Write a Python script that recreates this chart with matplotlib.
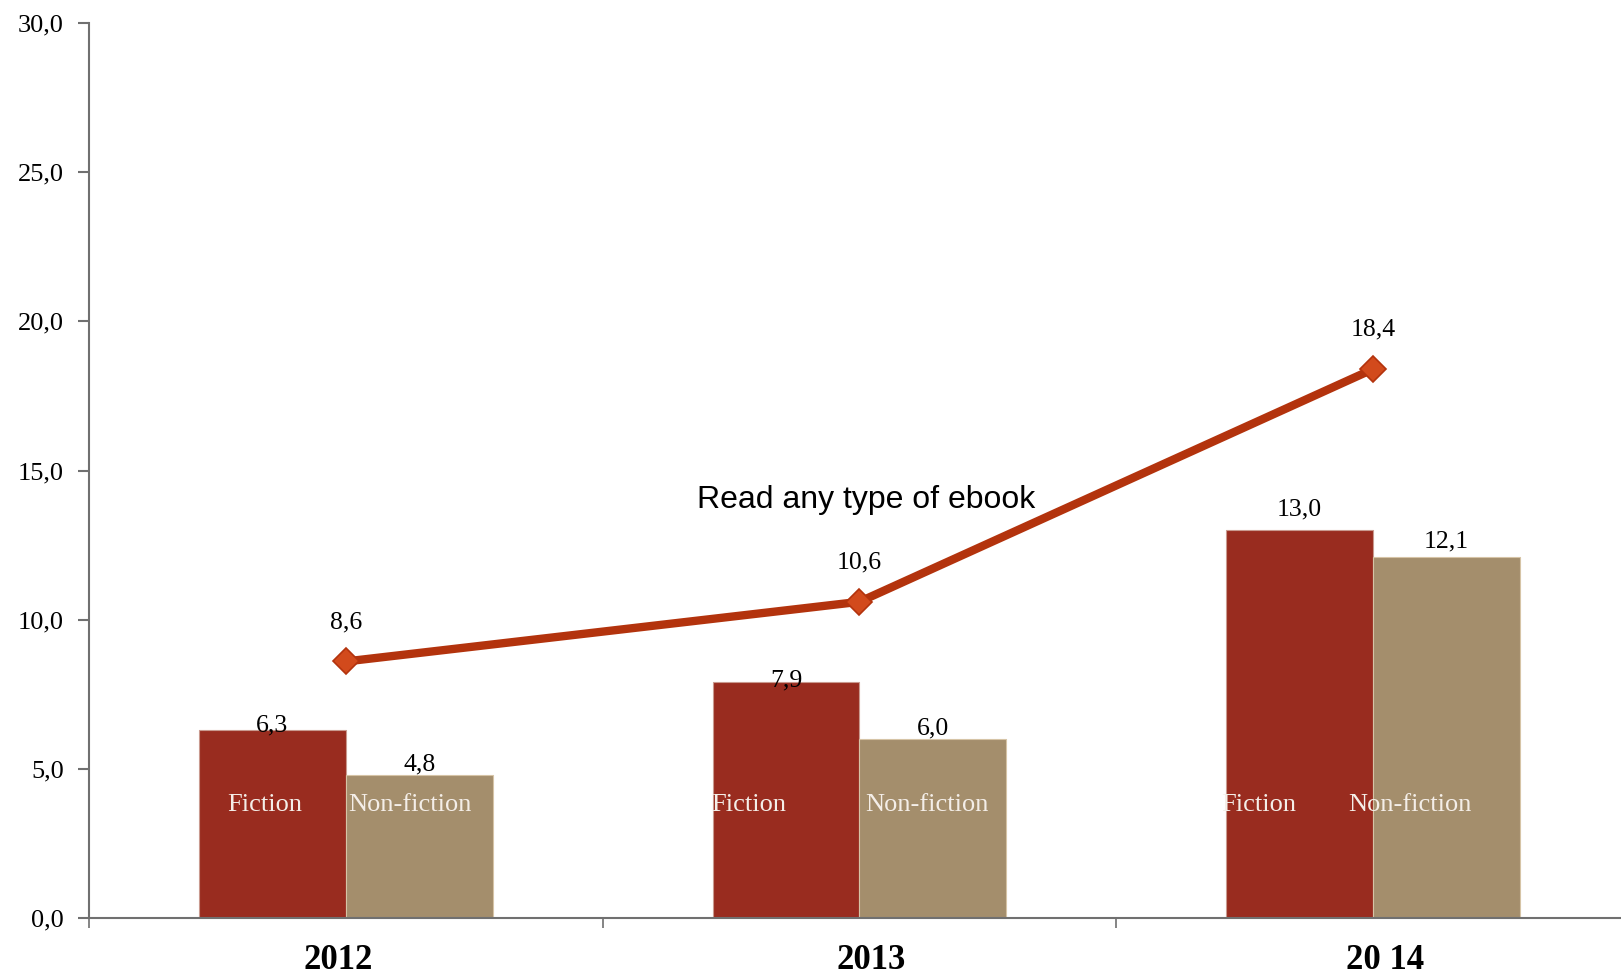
import matplotlib
matplotlib.use("Agg")
import matplotlib.pyplot as plt
import numpy as np

years = ["2012", "2013", "20 14"]
fiction = [6.3, 7.9, 13.0]
nonfiction = [4.8, 6.0, 12.1]
any_ebook = [8.6, 10.6, 18.4]
yticks = [0, 5, 10, 15, 20, 25, 30]
line_label = "Read any type of ebook"
bar_names = ["Fiction", "Non-fiction"]

# label placement offsets (style only)
fic_text_dx = [-0.158, -0.216, -0.222]
non_text_dx = [0.124, 0.132, 0.071]
fic_val_dy = [3, 1.5, 15]      # points above bar top (label centre)
non_val_dy = [7.5, 7.5, 11]
year_dx = [-0.014, 0.023, 0.023]

c_fic = "#992C1F"
c_non = "#A48E6C"
c_line = "#B3330D"
c_mark = "#D24A1C"
grey = "#707070"
serif = ["Liberation Serif", "DejaVu Serif"]

fig = plt.figure(figsize=(16.21, 9.76), dpi=100)
ax = fig.add_axes([0.0549, 0.0594, 0.9506, 0.917])

x = np.arange(len(years))
w = 0.286
ax.bar(x - w / 2, fiction, w, color=c_fic, edgecolor="#C99A8F", linewidth=0.8, zorder=2)
ax.bar(x + w / 2, nonfiction, w, color=c_non, edgecolor="#D6C4A6", linewidth=0.8, zorder=2)
ax.plot(x, any_ebook, color=c_line, lw=6, marker="D", ms=13,
        mfc=c_mark, mec=c_line, mew=1.2, zorder=4, solid_capstyle="butt")

def fmt(v):
    return f"{v:.1f}".replace(".", ",")

for i in range(len(years)):
    ax.annotate(fmt(fiction[i]), (x[i] - w / 2, fiction[i]), xytext=(0, fic_val_dy[i]),
                textcoords="offset points", ha="center", va="center",
                fontsize=18.5, family=serif, zorder=5)
    ax.annotate(fmt(nonfiction[i]), (x[i] + w / 2, nonfiction[i]), xytext=(0, non_val_dy[i]),
                textcoords="offset points", ha="center", va="center",
                fontsize=18.5, family=serif, zorder=5)
    ax.text(x[i], any_ebook[i] + 0.95, fmt(any_ebook[i]),
            ha="center", va="bottom", fontsize=18.5, family=serif, zorder=5)
    ax.text(x[i] + fic_text_dx[i], 3.8, bar_names[0], ha="center", va="center",
            fontsize=19, family=serif, color="#F4EEE8", zorder=3)
    ax.text(x[i] + non_text_dx[i], 3.8, bar_names[1], ha="center", va="center",
            fontsize=19, family=serif, color="#F4EEE8", zorder=3)

ax.text(1.013, 14.0, line_label, ha="center", va="center", fontsize=23,
        family=["Liberation Sans", "DejaVu Sans"], zorder=5)

ax.set_xlim(-0.5, 2.5)
ax.set_ylim(0, 30)
ax.set_yticks(yticks)
ax.set_yticklabels([fmt(v) for v in yticks], family=serif, fontsize=19)
ax.set_xticks(x + np.array(year_dx))
ax.set_xticklabels(years, family=serif, fontsize=25, fontweight="bold")
ax.tick_params(axis="x", which="major", length=0, pad=19)
ax.set_xticks([-0.5, 0.5, 1.5, 2.5], minor=True)
ax.tick_params(axis="x", which="minor", length=7, color=grey, width=1.2, direction="out")
ax.tick_params(axis="y", length=8, color=grey, width=1.5, direction="out", pad=10)

for s in ["top", "right"]:
    ax.spines[s].set_visible(False)
for s in ["left", "bottom"]:
    ax.spines[s].set_color(grey)
    ax.spines[s].set_linewidth(1.5)

fig.savefig("out.png", dpi=100)
